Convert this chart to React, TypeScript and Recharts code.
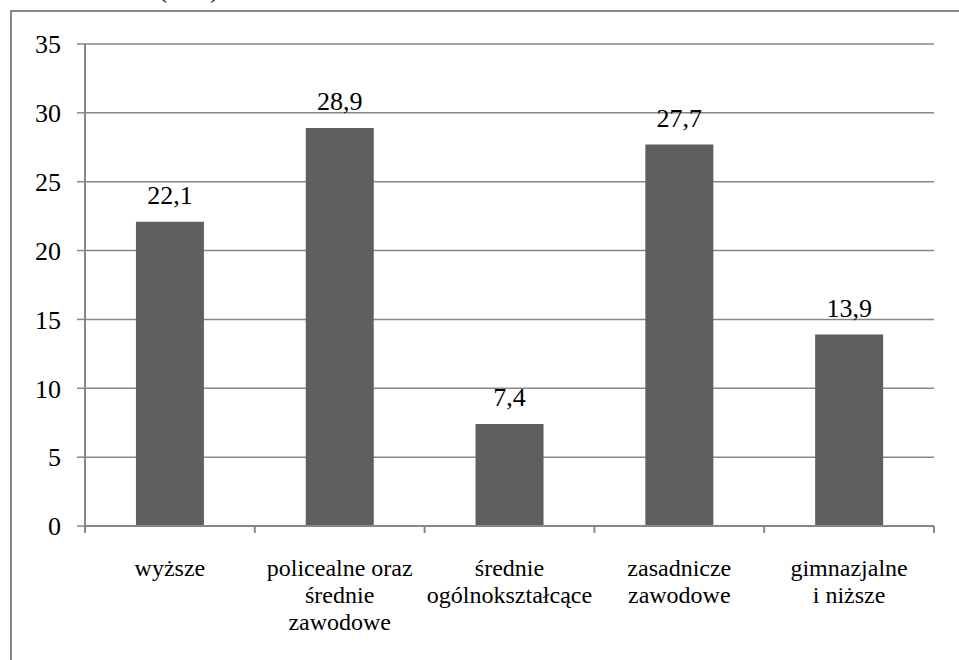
import { BarChart, Bar, XAxis, YAxis, CartesianGrid, LabelList } from "recharts";

const categories = [
  "wyższe",
  "policealne oraz\nśrednie\nzawodowe",
  "średnie\nogólnokształcące",
  "zasadnicze\nzawodowe",
  "gimnazjalne\ni niższe",
];
const values = [22.1, 28.9, 7.4, 27.7, 13.9];
const yTicks = [0, 5, 10, 15, 20, 25, 30, 35];

const data = categories.map((name, i) => ({ name, value: values[i] }));

const FONT = "Liberation Serif";
const GRAY = "#878787";

const CategoryTick = (props: any) => {
  const { x, y, payload, index, visibleTicksCount } = props;
  const lines = String(payload.value).split("\n");
  const half = payload.offset || 0;
  const last = index === (visibleTicksCount ?? categories.length) - 1;
  return (
    <g>
      <line x1={x - half} x2={x - half} y1={y} y2={y + 7} stroke={GRAY} strokeWidth={2} />
      {last && <line x1={x + half} x2={x + half} y1={y} y2={y + 7} stroke={GRAY} strokeWidth={2} />}
      <text x={x} y={y} textAnchor="middle" style={{ fontFamily: FONT }} fontSize={24} fill="#000">
        {lines.map((line: string, i: number) => (
          <tspan key={i} x={x} dy={i === 0 ? 50 : 27}>
            {line}
          </tspan>
        ))}
      </text>
    </g>
  );
};

const App = () => {
  return (
    <div style={{ position: "absolute", left: 0, top: 0, width: 959, height: 660, background: "#fff" }}>
      <div
        style={{
          position: "absolute",
          left: 10,
          top: 10,
          width: 960,
          height: 660,
          borderLeft: `2px solid ${GRAY}`,
          borderTop: `2px solid ${GRAY}`,
          boxSizing: "border-box",
        }}
      />
      <svg width={959} height={660} style={{ position: "absolute", left: 0, top: 0 }}>
        <text x={159} y={-2} style={{ fontFamily: FONT }} fontSize={24} fill="#000">
          (w %)
        </text>
      </svg>
      <div style={{ position: "absolute", left: 0, top: 0 }}>
        <BarChart
          width={959}
          height={660}
          data={data}
          margin={{ top: 44, right: 25, left: 0, bottom: 133 }}
          barCategoryGap="30%"
        >
          <CartesianGrid vertical={false} stroke={GRAY} strokeWidth={1.5} />
          <XAxis
            dataKey="name"
            height={1}
            tickLine={false}
            tickSize={0}
            tickMargin={0}
            axisLine={{ stroke: GRAY, strokeWidth: 2 }}
            tick={<CategoryTick />}
            interval={0}
          />
          <YAxis
            width={85}
            domain={[0, 35]}
            ticks={yTicks}
            interval={0}
            tickSize={8}
            tickMargin={16}
            axisLine={{ stroke: GRAY, strokeWidth: 2 }}
            tickLine={{ stroke: GRAY, strokeWidth: 1.5 }}
            tick={{ fontFamily: FONT, fontSize: 26, fill: "#000" }}
          />
          <Bar dataKey="value" fill="#5f5f5f" isAnimationActive={false}>
            <LabelList
              dataKey="value"
              position="top"
              offset={18}
              formatter={(v: any) => Number(v).toFixed(1).replace(".", ",")}
              style={{ fontFamily: FONT, fontSize: 26, fill: "#000" }}
            />
          </Bar>
        </BarChart>
      </div>
    </div>
  );
};

export default App;
